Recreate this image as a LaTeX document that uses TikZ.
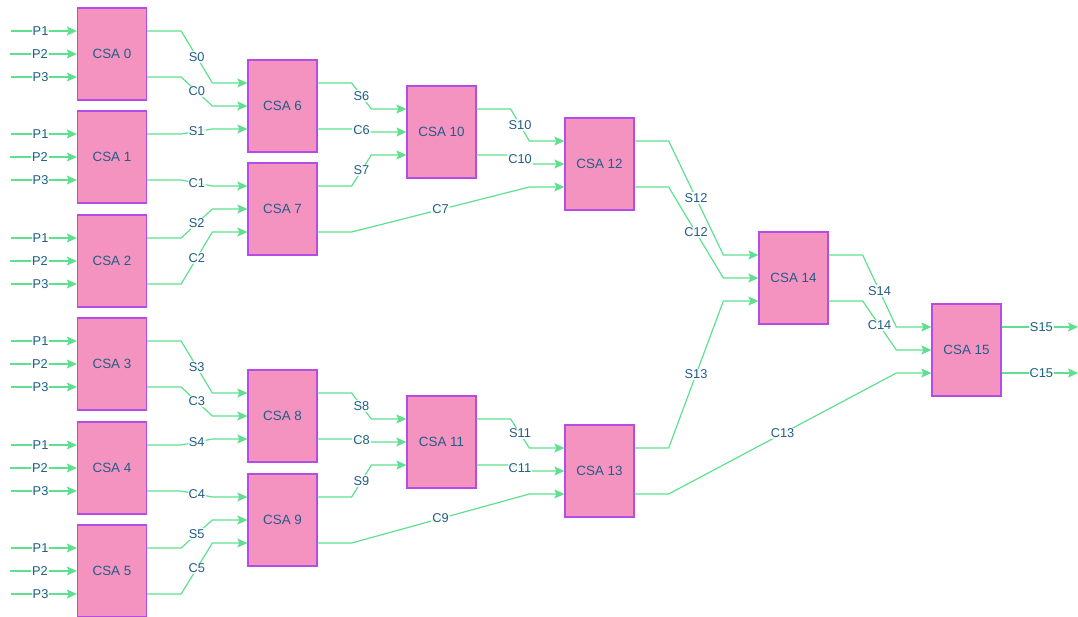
\documentclass[tikz,border=0pt]{standalone}
\usepackage{fontspec}
\setmainfont{Liberation Sans}
\usetikzlibrary{arrows.meta}
\definecolor{boxfill}{HTML}{F493C0}
\definecolor{boxdraw}{HTML}{B44CE6}
\definecolor{edgec}{HTML}{5EE08E}
\definecolor{txtc}{HTML}{235C87}
\tikzset{
  csa/.style={draw=boxdraw, fill=boxfill, line width=1.3pt, minimum width=69pt, minimum height=92pt, inner sep=0pt, text=txtc, font=\fontsize{13.4}{15}\selectfont},
  wire/.style={draw=edgec, line width=1.2pt, -{Stealth[length=10pt,width=9pt,inset=2pt]}},
  lbl/.style={fill=white, fill opacity=0.8, text opacity=1, inner sep=1pt, text=txtc, font=\fontsize{12.8}{14}\selectfont},
}
\begin{document}
\begin{tikzpicture}[x=1pt,y=-1pt]
\useasboundingbox (0,0) rectangle (1078,616);
% boxes
\node[csa] (c0) at (112,54) {CSA 0};
\node[csa] (c1) at (112,157) {CSA 1};
\node[csa] (c2) at (112,261) {CSA 2};
\node[csa] (c3) at (112,364) {CSA 3};
\node[csa] (c4) at (112,468) {CSA 4};
\node[csa] (c5) at (112,571) {CSA 5};
\node[csa] (c6) at (282.5,106) {CSA 6};
\node[csa] (c7) at (282.5,209) {CSA 7};
\node[csa] (c8) at (282.5,416) {CSA 8};
\node[csa] (c9) at (282.5,520) {CSA 9};
\node[csa] (c10) at (441.5,132) {CSA 10};
\node[csa] (c11) at (441.5,442) {CSA 11};
\node[csa] (c12) at (599.5,164) {CSA 12};
\node[csa] (c13) at (599.5,471) {CSA 13};
\node[csa] (c14) at (793.5,278) {CSA 14};
\node[csa] (c15) at (966.5,350) {CSA 15};
% primary inputs
\foreach \b in {0,...,5}{
  \coordinate (i\b a) at ([xshift=-66pt,yshift=23pt]c\b.west);
  \coordinate (i\b b) at ([xshift=-67pt]c\b.west);
  \coordinate (i\b c) at ([xshift=-66pt,yshift=-23pt]c\b.west);
  \draw[wire] (i\b a) -- node[lbl,pos=0.45]{P1} ([yshift=23pt]c\b.west);
  \draw[wire] (i\b b) -- node[lbl,pos=0.45]{P2} (c\b.west);
  \draw[wire] (i\b c) -- node[lbl,pos=0.45]{P3} ([yshift=-23pt]c\b.west);
}
% edge: source node, source shift, target node, target shift, label
\newcommand{\csaedge}[5]{%
  \draw[wire] ([yshift=#2pt]#1.east) -- ++(34,0) -- ([xshift=-35pt,yshift=#4pt]#3.west)
    node[lbl,midway]{#5} -- ([yshift=#4pt]#3.west);}
\csaedge{c0}{23}{c6}{23}{S0}
\csaedge{c0}{-23}{c6}{0}{C0}
\csaedge{c1}{23}{c6}{-23}{S1}
\csaedge{c1}{-23}{c7}{23}{C1}
\csaedge{c2}{23}{c7}{0}{S2}
\csaedge{c2}{-23}{c7}{-23}{C2}
\csaedge{c3}{23}{c8}{23}{S3}
\csaedge{c3}{-23}{c8}{0}{C3}
\csaedge{c4}{23}{c8}{-23}{S4}
\csaedge{c4}{-23}{c9}{23}{C4}
\csaedge{c5}{23}{c9}{0}{S5}
\csaedge{c5}{-23}{c9}{-23}{C5}
\csaedge{c6}{23}{c10}{23}{S6}
\csaedge{c6}{-23}{c10}{0}{C6}
\csaedge{c7}{23}{c10}{-23}{S7}
\csaedge{c7}{-23}{c12}{-23}{C7}
\csaedge{c8}{23}{c11}{23}{S8}
\csaedge{c8}{-23}{c11}{0}{C8}
\csaedge{c9}{23}{c11}{-23}{S9}
\csaedge{c9}{-23}{c13}{-23}{C9}
\csaedge{c10}{23}{c12}{23}{S10}
\csaedge{c10}{-23}{c12}{0}{C10}
\csaedge{c11}{23}{c13}{23}{S11}
\csaedge{c11}{-23}{c13}{0}{C11}
\csaedge{c12}{23}{c14}{23}{S12}
\csaedge{c12}{-23}{c14}{0}{C12}
\csaedge{c13}{23}{c14}{-23}{S13}
\csaedge{c13}{-23}{c15}{-23}{C13}
\csaedge{c14}{23}{c15}{23}{S14}
\csaedge{c14}{-23}{c15}{0}{C14}
% outputs
\coordinate (os) at (1078,327);
\coordinate (oc) at (1078,373);
\draw[wire] ([yshift=23pt]c15.east) -- node[lbl,pos=0.52]{S15} (os);
\draw[wire] ([yshift=-23pt]c15.east) -- node[lbl,pos=0.52]{C15} (oc);
\end{tikzpicture}
\end{document}
